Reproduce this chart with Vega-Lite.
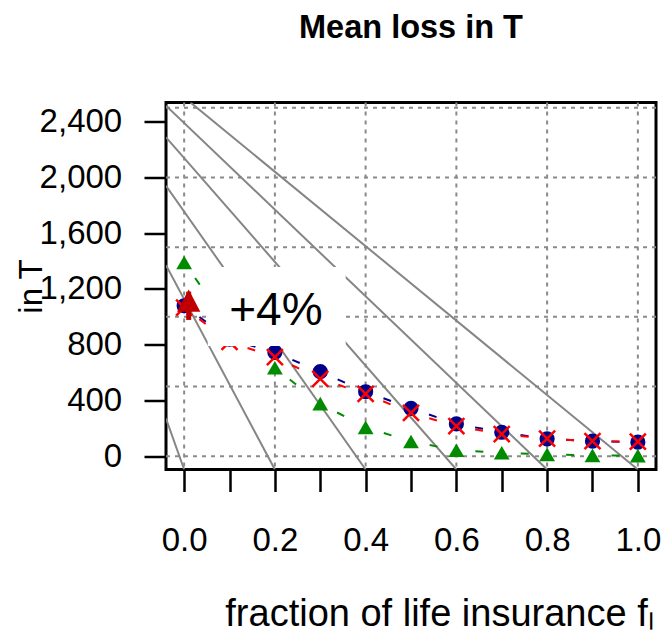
{
  "$schema": "https://vega.github.io/schema/vega-lite/v6.json",
  "autosize": {"type": "none"},
  "padding": {"left": 166, "top": 102.5, "right": 15, "bottom": 164.5},
  "width": 490,
  "height": 367,
  "background": "white",
  "title": {"text": "Mean loss in T", "font": "Liberation Sans", "fontSize": 32.5, "fontWeight": "bold", "color": "black", "anchor": "middle", "frame": "group", "baseline": "alphabetic", "offset": 31},
  "config": {
    "font": "Liberation Sans",
    "view": {"stroke": "black", "strokeWidth": 3},
    "axis": {"labelFont": "Liberation Sans", "titleFont": "Liberation Sans", "labelColor": "black", "titleColor": "black", "tickColor": "black", "titleFontWeight": "normal", "grid": false, "domain": false, "labelFlush": false, "labelOverlap": false}
  },
  "datasets": {
    "series": [
      {"series": "blue", "f": 0.0, "loss": 1080}, {"series": "blue", "f": 0.1, "loss": 840}, {"series": "blue", "f": 0.2, "loss": 745}, {"series": "blue", "f": 0.3, "loss": 607}, {"series": "blue", "f": 0.4, "loss": 463}, {"series": "blue", "f": 0.5, "loss": 344}, {"series": "blue", "f": 0.6, "loss": 232}, {"series": "blue", "f": 0.7, "loss": 172}, {"series": "blue", "f": 0.8, "loss": 125}, {"series": "blue", "f": 0.9, "loss": 108}, {"series": "blue", "f": 1.0, "loss": 101},
      {"series": "red", "f": 0.0, "loss": 1066}, {"series": "red", "f": 0.1, "loss": 820}, {"series": "red", "f": 0.2, "loss": 712}, {"series": "red", "f": 0.3, "loss": 556}, {"series": "red", "f": 0.4, "loss": 447}, {"series": "red", "f": 0.5, "loss": 311}, {"series": "red", "f": 0.6, "loss": 216}, {"series": "red", "f": 0.7, "loss": 159}, {"series": "red", "f": 0.8, "loss": 126}, {"series": "red", "f": 0.9, "loss": 108}, {"series": "red", "f": 1.0, "loss": 105},
      {"series": "green", "f": 0.0, "loss": 1390}, {"series": "green", "f": 0.1, "loss": 930}, {"series": "green", "f": 0.2, "loss": 635}, {"series": "green", "f": 0.3, "loss": 377}, {"series": "green", "f": 0.4, "loss": 207}, {"series": "green", "f": 0.5, "loss": 106}, {"series": "green", "f": 0.6, "loss": 43}, {"series": "green", "f": 0.7, "loss": 25}, {"series": "green", "f": 0.8, "loss": 13}, {"series": "green", "f": 0.9, "loss": 6}, {"series": "green", "f": 1.0, "loss": 4}
    ],
    "fan": [
      {"x1": 0.014, "y1": 2538, "x2": 1.0, "y2": -95},
      {"x1": -0.04, "y1": 2515, "x2": 0.8, "y2": -95},
      {"x1": -0.04, "y1": 2288, "x2": 0.6, "y2": -95},
      {"x1": -0.04, "y1": 1940, "x2": 0.4, "y2": -95},
      {"x1": -0.04, "y1": 1371, "x2": 0.2, "y2": -95},
      {"x1": -0.04, "y1": 270, "x2": 0.0, "y2": -95}
    ],
    "gridx": [{"g": 0}, {"g": 0.2}, {"g": 0.4}, {"g": 0.6}, {"g": 0.8}, {"g": 1.0}],
    "gridy": [{"g": 0}, {"g": 500}, {"g": 1000}, {"g": 1500}, {"g": 2000}, {"g": 2500}],
    "note": [{"label": "+4%", "f": 0.2022, "loss": 945, "f1": 0.052, "f2": 0.356, "l1": 791, "l2": 1358}],
    "arrow": [{"f": 0.01, "from": 978, "to": 1181}]
  },
  "layer": [
    {
      "data": {"name": "series"},
      "transform": [{"filter": "datum.series == 'blue'"}],
      "mark": {"type": "point", "shape": "circle", "filled": true, "size": 0, "opacity": 0},
      "encoding": {
        "x": {"field": "f", "type": "quantitative", "scale": {"domain": [-0.04, 1.04], "nice": false, "zero": false},
          "axis": {"values": [0, 0.1, 0.2, 0.3, 0.4, 0.5, 0.6, 0.7, 0.8, 0.9, 1.0], "labelExpr": "round(datum.value * 10) % 2 == 0 ? format(datum.value, '.1f') : ''", "tickSize": 22, "tickWidth": 2.5, "labelFontSize": 33, "labelPadding": 33, "title": "fraction of life insurance fₗ", "titleFontSize": 38, "titleX": 273, "titleY": 155.5, "titleBaseline": "alphabetic", "titleAlign": "center"}},
        "y": {"field": "loss", "type": "quantitative", "scale": {"domain": [-95, 2538], "nice": false, "zero": false},
          "axis": {"values": [0, 400, 800, 1200, 1600, 2000, 2400], "format": ",d", "tickSize": 22, "tickWidth": 2.5, "labelFontSize": 33, "labelPadding": 22.3, "labelBaseline": "middle", "title": "in T", "titleFontSize": 33, "titleAngle": 270, "titleX": -124.3, "titleY": 183.5, "titleBaseline": "alphabetic", "titleAlign": "center"}}
      }
    },
    {
      "data": {"name": "gridx"},
      "mark": {"type": "rule", "color": "#8a8a8a", "strokeWidth": 2, "strokeDash": [4, 5]},
      "encoding": {"x": {"field": "g", "type": "quantitative", "scale": {"domain": [-0.04, 1.04], "nice": false, "zero": false}}}
    },
    {
      "data": {"name": "gridy"},
      "mark": {"type": "rule", "color": "#8a8a8a", "strokeWidth": 2, "strokeDash": [4, 5]},
      "encoding": {"y": {"field": "g", "type": "quantitative", "scale": {"domain": [-95, 2538], "nice": false, "zero": false}}}
    },
    {
      "data": {"name": "fan"},
      "mark": {"type": "rule", "color": "#858585", "strokeWidth": 2, "clip": true},
      "encoding": {
        "x": {"field": "x1", "type": "quantitative", "scale": {"domain": [-0.04, 1.04], "nice": false, "zero": false}},
        "y": {"field": "y1", "type": "quantitative", "scale": {"domain": [-95, 2538], "nice": false, "zero": false}},
        "x2": {"field": "x2"},
        "y2": {"field": "y2"}
      }
    },
    {
      "data": {"name": "series"},
      "transform": [
        {"window": [{"op": "lead", "field": "f", "as": "f2"}, {"op": "lead", "field": "loss", "as": "loss2"}], "groupby": ["series"], "sort": [{"field": "f", "order": "ascending"}]},
        {"filter": "datum.f2 != null"}
      ],
      "mark": {"type": "rule", "strokeWidth": 2, "strokeDash": [0, 19, 8, 400], "strokeCap": "butt"},
      "encoding": {
        "x": {"field": "f", "type": "quantitative", "scale": {"domain": [-0.04, 1.04], "nice": false, "zero": false}},
        "y": {"field": "loss", "type": "quantitative", "scale": {"domain": [-95, 2538], "nice": false, "zero": false}},
        "x2": {"field": "f2"},
        "y2": {"field": "loss2"},
        "color": {"field": "series", "type": "nominal", "scale": {"domain": ["blue", "red", "green"], "range": ["#00008B", "#FF0000", "#008B00"]}, "legend": null}
      }
    },
    {
      "data": {"name": "series"},
      "transform": [{"filter": "datum.series == 'blue'"}],
      "mark": {"type": "point", "shape": "circle", "filled": true, "size": 230, "color": "#00008B", "opacity": 1},
      "encoding": {
        "x": {"field": "f", "type": "quantitative", "scale": {"domain": [-0.04, 1.04], "nice": false, "zero": false}},
        "y": {"field": "loss", "type": "quantitative", "scale": {"domain": [-95, 2538], "nice": false, "zero": false}}
      }
    },
    {
      "data": {"name": "series"},
      "transform": [{"filter": "datum.series == 'green'"}],
      "mark": {"type": "point", "shape": "triangle-up", "filled": true, "size": 250, "color": "#008B00", "opacity": 1},
      "encoding": {
        "x": {"field": "f", "type": "quantitative", "scale": {"domain": [-0.04, 1.04], "nice": false, "zero": false}},
        "y": {"field": "loss", "type": "quantitative", "scale": {"domain": [-95, 2538], "nice": false, "zero": false}}
      }
    },
    {
      "data": {"name": "series"},
      "transform": [{"filter": "datum.series == 'red'"}],
      "mark": {"type": "point", "shape": "M-1,-1L1,1M-1,1L1,-1", "filled": false, "size": 256, "stroke": "#FF0000", "strokeWidth": 2.5, "opacity": 1},
      "encoding": {
        "x": {"field": "f", "type": "quantitative", "scale": {"domain": [-0.04, 1.04], "nice": false, "zero": false}},
        "y": {"field": "loss", "type": "quantitative", "scale": {"domain": [-95, 2538], "nice": false, "zero": false}}
      }
    },
    {
      "data": {"name": "note"},
      "mark": {"type": "rect", "fill": "white", "stroke": null},
      "encoding": {
        "x": {"field": "f1", "type": "quantitative", "scale": {"domain": [-0.04, 1.04], "nice": false, "zero": false}},
        "x2": {"field": "f2"},
        "y": {"field": "l1", "type": "quantitative", "scale": {"domain": [-95, 2538], "nice": false, "zero": false}},
        "y2": {"field": "l2"}
      }
    },
    {
      "data": {"name": "note"},
      "mark": {"type": "text", "font": "Liberation Sans", "fontSize": 46, "color": "black", "align": "center", "baseline": "alphabetic"},
      "encoding": {
        "x": {"field": "f", "type": "quantitative", "scale": {"domain": [-0.04, 1.04], "nice": false, "zero": false}},
        "y": {"field": "loss", "type": "quantitative", "scale": {"domain": [-95, 2538], "nice": false, "zero": false}},
        "text": {"field": "label"}
      }
    },
    {
      "data": {"name": "arrow"},
      "mark": {"type": "rule", "color": "#C00000", "strokeWidth": 5},
      "encoding": {
        "x": {"field": "f", "type": "quantitative", "scale": {"domain": [-0.04, 1.04], "nice": false, "zero": false}},
        "y": {"field": "from", "type": "quantitative", "scale": {"domain": [-95, 2538], "nice": false, "zero": false}},
        "y2": {"field": "to"}
      }
    },
    {
      "data": {"name": "arrow"},
      "mark": {"type": "point", "shape": "M0,0L-1,1.9L1,1.9Z", "filled": true, "size": 400, "color": "#C00000", "stroke": "#C00000", "strokeWidth": 2, "opacity": 1},
      "encoding": {
        "x": {"field": "f", "type": "quantitative", "scale": {"domain": [-0.04, 1.04], "nice": false, "zero": false}},
        "y": {"field": "to", "type": "quantitative", "scale": {"domain": [-95, 2538], "nice": false, "zero": false}}
      }
    }
  ]
}
